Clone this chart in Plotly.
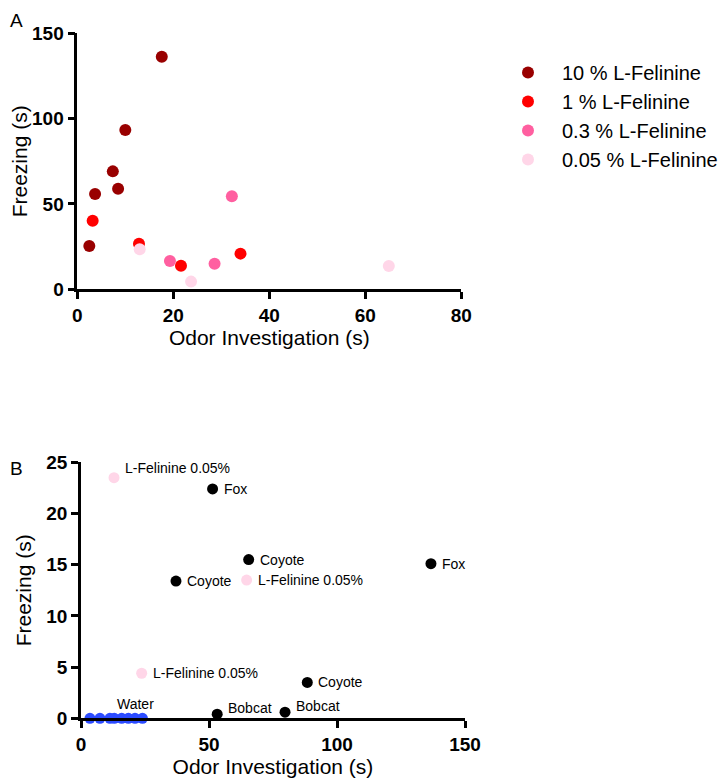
import plotly.graph_objects as go

# ---- Panel A data ----
a_groups = ["10 % L-Felinine", "1 % L-Felinine", "0.3 % L-Felinine", "0.05 % L-Felinine"]
a_colors = ["#990000", "#FF0000", "#FF5FA0", "#FFD6E8"]
a_x_10 = [2.5, 3.7, 7.4, 8.5, 10.0, 17.6]
a_y_10 = [25.4, 55.8, 69.1, 58.9, 93.3, 136.3]
a_x_1 = [3.2, 12.85, 21.6, 34.0]
a_y_1 = [40.2, 26.7, 13.8, 20.9]
a_x_03 = [19.3, 28.6, 32.2]
a_y_03 = [16.6, 15.0, 54.5]
a_x_005 = [13.0, 23.7, 64.9]
a_y_005 = [23.4, 4.5, 13.6]

# ---- Panel B data ----
b_pred_x = [51.4, 65.5, 37.1, 136.7, 88.4, 53.2, 79.7]
b_pred_y = [22.4, 15.5, 13.4, 15.1, 3.5, 0.4, 0.6]
b_pred_labels = ["Fox", "Coyote", "Coyote", "Fox", "Coyote", "Bobcat", "Bobcat"]
b_fel_x = [12.9, 64.7, 23.7]
b_fel_y = [23.5, 13.5, 4.4]
b_fel_labels = ["L-Felinine 0.05%", "L-Felinine 0.05%", "L-Felinine 0.05%"]
b_water_x = [3.5, 7.4, 11.3, 13.0, 15.9, 18.5, 21.1, 24.0]
b_water_y = [0, 0, 0, 0, 0, 0, 0, 0]
b_water_label = "Water"

FONT = "Liberation Sans, Arial, sans-serif"

# page body has an 8px default margin: compensate
OFF = 8
W, H = 727 - OFF, 779 - OFF


def px(x):
    return (x - OFF) / W


def py(y):
    return 1 - (y - OFF) / H


fig = go.Figure()

a_sets = [(a_x_10, a_y_10), (a_x_1, a_y_1), (a_x_03, a_y_03), (a_x_005, a_y_005)]
for name, col, (xs, ys) in zip(a_groups, a_colors, a_sets):
    fig.add_trace(go.Scatter(x=xs, y=ys, mode="markers", name=name,
                             marker=dict(color=col, size=12, line=dict(width=0)),
                             xaxis="x", yaxis="y", cliponaxis=False))

fig.add_trace(go.Scatter(x=b_pred_x, y=b_pred_y, mode="markers", showlegend=False,
                         marker=dict(color="black", size=11), xaxis="x2", yaxis="y2",
                         cliponaxis=False))
fig.add_trace(go.Scatter(x=b_fel_x, y=b_fel_y, mode="markers", showlegend=False,
                         marker=dict(color="#FFD6E8", size=11), xaxis="x2", yaxis="y2",
                         cliponaxis=False))
fig.add_trace(go.Scatter(x=b_water_x, y=b_water_y, mode="markers", showlegend=False,
                         marker=dict(color="#2B4BFF", size=11), xaxis="x2", yaxis="y2",
                         cliponaxis=False))

annotations = []
bob_shift = {"Bobcat": 6}
for x, y, t in zip(b_pred_x, b_pred_y, b_pred_labels):
    annotations.append(dict(x=x, y=y, xref="x2", yref="y2", text=t, showarrow=False,
                            xanchor="left", yanchor="middle", xshift=9,
                            yshift=bob_shift.get(t, 0),
                            font=dict(family=FONT, size=14, color="black")))
fel_yshift = [10, 0, 0]
for (x, y, t), ys in zip(zip(b_fel_x, b_fel_y, b_fel_labels), fel_yshift):
    annotations.append(dict(x=x, y=y, xref="x2", yref="y2", text=t, showarrow=False,
                            xanchor="left", yanchor="middle", xshift=9, yshift=ys,
                            font=dict(family=FONT, size=14, color="black")))
annotations.append(dict(x=21.1, y=0, xref="x2", yref="y2",
                        text=b_water_label, showarrow=False, xanchor="center",
                        yanchor="middle", yshift=14,
                        font=dict(family=FONT, size=14, color="black")))
annotations.append(dict(x=px(8), y=py(8), xref="paper", yref="paper", text="A",
                        showarrow=False, xanchor="left", yanchor="top",
                        font=dict(family=FONT, size=19, color="black")))
annotations.append(dict(x=px(8), y=py(468), xref="paper", yref="paper", text="B",
                        showarrow=False, xanchor="left", yanchor="middle",
                        font=dict(family=FONT, size=19, color="black")))

axis_common = dict(showline=True, linecolor="black", linewidth=2.5, ticks="outside",
                   ticklen=7, tickwidth=2.5, tickcolor="black", showgrid=False,
                   zeroline=False, mirror=False, automargin=False,
                   tickfont=dict(family=FONT, size=19, color="black", weight="bold"),
                   title_font=dict(family=FONT, size=21, color="black"))

fig.update_layout(
    width=W, height=H,
    margin=dict(l=0, r=0, t=0, b=0, autoexpand=False),
    paper_bgcolor="white", plot_bgcolor="white",
    showlegend=True,
    legend=dict(x=px(494), y=py(53), xanchor="left", yanchor="top",
                font=dict(family=FONT, size=20, color="black"),
                itemwidth=58, tracegroupgap=0, bgcolor="rgba(0,0,0,0)"),
    xaxis=dict(domain=[px(77.3), px(461.3)], anchor="y", range=[0, 80],
               tickvals=[0, 20, 40, 60, 80], title=dict(text="Odor Investigation (s)", standoff=6),
               **axis_common),
    yaxis=dict(domain=[py(289.3), py(33.3)], anchor="x", range=[0, 150],
               tickvals=[0, 50, 100, 150], title=dict(text="Freezing (s)", standoff=5),
               **axis_common),
    xaxis2=dict(domain=[px(81), px(465)], anchor="y2", range=[0, 150],
                tickvals=[0, 50, 100, 150], title=dict(text="Odor Investigation (s)", standoff=5),
                **axis_common),
    yaxis2=dict(domain=[py(718.3), py(462.3)], anchor="x2", range=[0, 25],
                tickvals=[0, 5, 10, 15, 20, 25], title=dict(text="Freezing (s)", standoff=9),
                **axis_common),
    annotations=annotations,
)

fig.write_html("out.html")
